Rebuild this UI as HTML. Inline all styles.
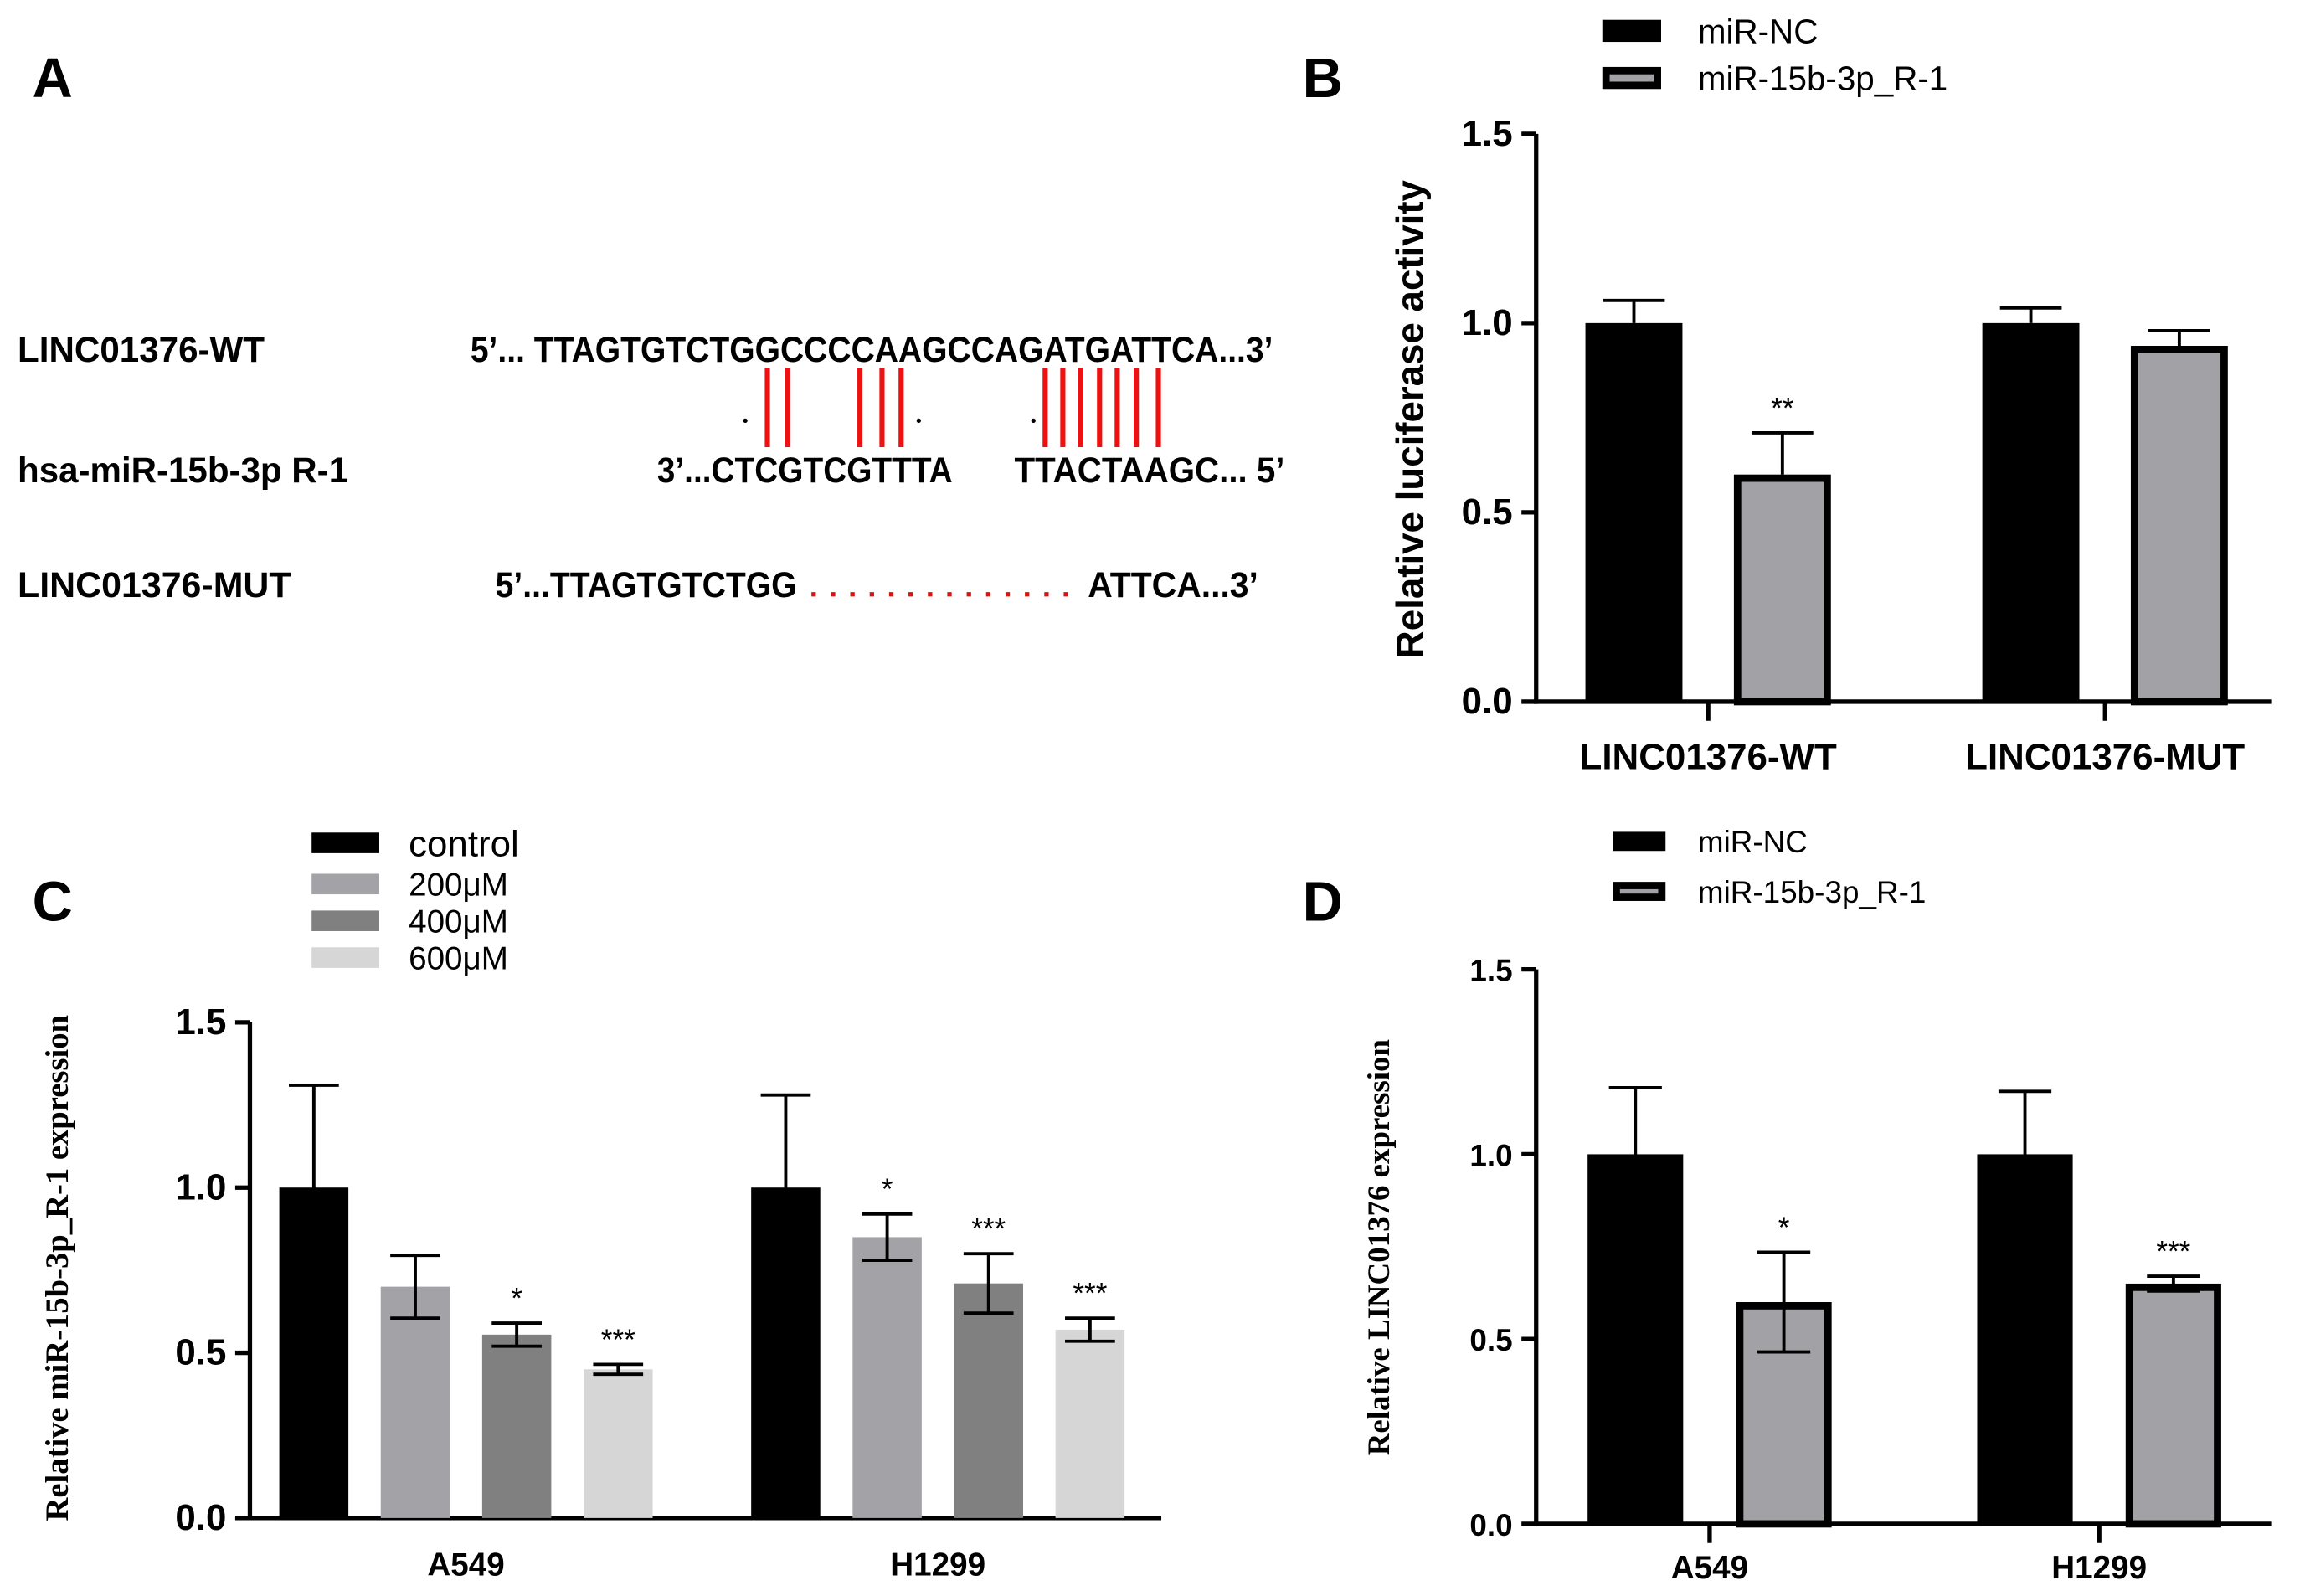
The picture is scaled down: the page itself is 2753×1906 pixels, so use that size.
<!DOCTYPE html>
<html><head><meta charset="utf-8"><style>
html,body{margin:0;padding:0;background:#fff}
svg{display:block;font-family:"Liberation Sans",sans-serif}
</style></head><body>
<svg id="fig" width="2753" height="1906" viewBox="0 0 1568 1085" preserveAspectRatio="none" xmlns="http://www.w3.org/2000/svg">
<g font-weight="bold" font-size="24" style="font-family:'Liberation Sans Narrow','Liberation Sans',sans-serif">
<text x="22" y="66" font-size="38" style="font-family:'Liberation Sans',sans-serif">A</text>
<text x="12" y="246" textLength="168" lengthAdjust="spacingAndGlyphs">LINC01376-WT</text>
<text x="12" y="328" textLength="225" lengthAdjust="spacingAndGlyphs">hsa-miR-15b-3p R-1</text>
<text x="12" y="406" textLength="186" lengthAdjust="spacingAndGlyphs">LINC01376-MUT</text>
<text x="320" y="246" textLength="546" lengthAdjust="spacingAndGlyphs">5’... TTAGTGTCTGGCCCCAAGCCAGATGATTCA...3’</text>
<text x="447" y="328" textLength="201" lengthAdjust="spacingAndGlyphs">3’...CTCGTCGTTTA</text>
<text x="690" y="328" textLength="184" lengthAdjust="spacingAndGlyphs">TTACTAAGC... 5’</text>
<text x="337" y="406" textLength="205" lengthAdjust="spacingAndGlyphs">5’...TTAGTGTCTGG</text>
<text x="740" y="406" textLength="116" lengthAdjust="spacingAndGlyphs">ATTCA...3’</text>
<line x1="552" y1="404" x2="734" y2="404" stroke="#e01010" stroke-width="3" stroke-dasharray="3 10.2"/>
<g id="pairs"></g>
</g>
<g id="panelB"></g>
<g id="panelC"></g>
<g id="panelD"></g>
</svg>
<script>
const NS="http://www.w3.org/2000/svg";
function mk(parent,tag,attrs,txt){const e=document.createElementNS(NS,tag);for(const k in attrs)e.setAttribute(k,attrs[k]);if(txt!==undefined)e.textContent=txt;parent.appendChild(e);return e;}

// Panel A pairing marks
const pairX=[522,536,585,600,613,711,723,735,748,760,773,788];
const dotX=[507,625,703];
const pg=document.getElementById('pairs');
pairX.forEach(x=>{const l=mk(pg,'line',{x1:x,y1:250,x2:x,y2:304,stroke:'#ee1111','stroke-width':3.5});

});
dotX.forEach(x=>{const c=mk(pg,'circle',{cx:x,cy:286,r:1.5,fill:'#000'});

});

// ---- Data ----
const bCategories=["LINC01376-WT","LINC01376-MUT"];
const bSeries=["miR-NC","miR-15b-3p_R-1"];
const bValues=[[1.0,0.60],[1.0,0.94]];
const bErrors=[[0.06,0.11],[0.04,0.04]];
const bStars=[["","**"],["",""]];

const cCategories=["A549","H1299"];
const cSeries=["control","200μM","400μM","600μM"];
const cValues=[[1.0,0.70,0.555,0.45],[1.0,0.85,0.71,0.57]];
const cErrors=[[0.31,0.095,0.035,0.015],[0.28,0.07,0.09,0.035]];
const cStars=[["","","*","***"],["","*","***","***"]];

const dCategories=["A549","H1299"];
const dSeries=["miR-NC","miR-15b-3p_R-1"];
const dValues=[[1.0,0.60],[1.0,0.65]];
const dErrors=[[0.18,0.135],[0.17,0.02]];
const dStars=[["","*"],["","***"]];

const ticks=[0.0,0.5,1.0,1.5];
const tickLabels=["0.0","0.5","1.0","1.5"];

function drawPanel(g,cfg){
  const y=v=>cfg.y0-(v/1.5)*(cfg.y0-cfg.y15);
  let a=mk(g,'line',{x1:cfg.ax,y1:cfg.y15,x2:cfg.ax,y2:cfg.y0+1.5,stroke:'#000','stroke-width':3});
  
  a=mk(g,'line',{x1:cfg.ax-1.5,y1:cfg.y0,x2:cfg.axEnd,y2:cfg.y0,stroke:'#000','stroke-width':3});
  
  ticks.forEach((t,i)=>{
    const tk=mk(g,'line',{x1:cfg.ax-10,y1:y(t),x2:cfg.ax,y2:y(t),stroke:'#000','stroke-width':3});
    
    const tl=mk(g,'text',{x:cfg.ax-16,y:y(t)+8,'text-anchor':'end','font-size':cfg.tickFs,'font-weight':'bold'},tickLabels[i]);
    
  });
  cfg.cats.forEach((c,ci)=>{
    const cx=cfg.catX[ci];
    if(cfg.catTicks){const tk=mk(g,'line',{x1:cx,y1:cfg.y0,x2:cx,y2:cfg.y0+13,stroke:'#000','stroke-width':3});
      }
    const lab=mk(g,'text',{x:cx,y:cfg.labY,'text-anchor':'middle','font-size':cfg.catFs,'font-weight':'bold'},c);
    
    const n=cfg.vals[ci].length;
    cfg.vals[ci].forEach((v,si)=>{
      const bx=cx+(si-(n-1)/2)*cfg.step-cfg.bw/2;
      const top=y(v);
      const st=cfg.styles[si];
      const r=mk(g,'rect',{x:bx+st.sw/2,y:top+st.sw/2,width:cfg.bw-st.sw,height:cfg.y0-top-st.sw/2,fill:st.fill,stroke:st.stroke||'none','stroke-width':st.sw});
      
      const e=cfg.errs[ci][si];const mx=bx+cfg.bw/2;
      const lo=cfg.both?y(v-e):top;
      const el=mk(g,'path',{d:`M${mx},${lo}L${mx},${y(v+e)}M${mx-cfg.cap},${y(v+e)}L${mx+cfg.cap},${y(v+e)}`+(cfg.both?`M${mx-cfg.cap},${lo}L${mx+cfg.cap},${lo}`:''),stroke:'#000','stroke-width':2.2,fill:'none'});
      
      const s=cfg.stars[ci][si];
      if(s){const t=mk(g,'text',{x:mx,y:y(v+e)-10,'text-anchor':'middle','font-size':20},s);
        }
    });
  });
  const yl=mk(g,'text',{transform:`translate(${cfg.ylX},${cfg.ylY}) rotate(-90)`,'text-anchor':'middle','font-size':cfg.ylFs,'font-weight':'bold',style:'font-family:'+cfg.ylFont},cfg.ylabel);
  
  cfg.series.forEach((s,i)=>{
    const L=cfg.leg[i];const st=cfg.styles[i];
    const r=mk(g,'rect',{x:L.x+st.sw/2,y:L.y-L.h/2+st.sw/2,width:L.w-st.sw,height:L.h-st.sw,fill:st.fill,stroke:st.stroke||'none','stroke-width':st.sw});
    
    const t=mk(g,'text',{x:L.tx,y:L.y+L.fs*0.36,'font-size':L.fs},s);
    
  });
  const pl=mk(g,'text',{x:cfg.letter[0],y:cfg.letter[1],'font-size':38,'font-weight':'bold'},cfg.letter[2]);
  
}

drawPanel(document.getElementById('panelB'),{
  cats:bCategories,series:bSeries,vals:bValues,errs:bErrors,stars:bStars,
  ax:1045,axEnd:1545,y0:477,y15:91,catX:[1162,1432],catTicks:true,step:101,bw:66,cap:21,both:false,
  styles:[{fill:'#000',stroke:'#000',sw:0},{fill:'#a2a2a6',stroke:'#000',sw:5}],
  tickFs:25,catFs:25,labY:523,ylabel:'Relative luciferase activity',ylX:968,ylY:285,ylFs:26,ylFont:'"Liberation Sans",sans-serif',
  leg:[{x:1090,y:21,w:40,h:15,tx:1155,fs:23},{x:1090,y:53,w:40,h:15,tx:1155,fs:23}],letter:[886,66,'B']
});
drawPanel(document.getElementById('panelC'),{
  cats:cCategories,series:cSeries,vals:cValues,errs:cErrors,stars:cStars,
  ax:170,axEnd:790,y0:1032,y15:695,catX:[317,638],catTicks:false,step:69,bw:47,cap:17,both:true,
  styles:[{fill:'#000',sw:0},{fill:'#a3a3a7',sw:0},{fill:'#808080',sw:0},{fill:'#d6d6d6',sw:0}],
  tickFs:25,catFs:22,labY:1071,ylabel:'Relative miR-15b-3p_R-1 expression',ylX:46,ylY:862,ylFs:22,ylFont:'"Liberation Serif",serif',
  leg:[{x:212,y:573,w:46,h:14,tx:278,fs:25},{x:212,y:601,w:46,h:14,tx:278,fs:22},{x:212,y:626,w:46,h:14,tx:278,fs:22},{x:212,y:651,w:46,h:14,tx:278,fs:22}],letter:[22,626,'C']
});
drawPanel(document.getElementById('panelD'),{
  cats:dCategories,series:dSeries,vals:dValues,errs:dErrors,stars:dStars,
  ax:1045,axEnd:1545,y0:1036,y15:659,catX:[1163,1428],catTicks:true,step:101,bw:65,cap:18,both:true,
  styles:[{fill:'#000',stroke:'#000',sw:0},{fill:'#a2a2a6',stroke:'#000',sw:5}],
  tickFs:21,catFs:22,labY:1073,ylabel:'Relative LINC01376 expression',ylX:945,ylY:848,ylFs:21,ylFont:'"Liberation Serif",serif',
  leg:[{x:1097,y:572,w:36,h:13,tx:1155,fs:21},{x:1097,y:606,w:36,h:13,tx:1155,fs:21}],letter:[886,626,'D']
});
</script>
</body></html>
